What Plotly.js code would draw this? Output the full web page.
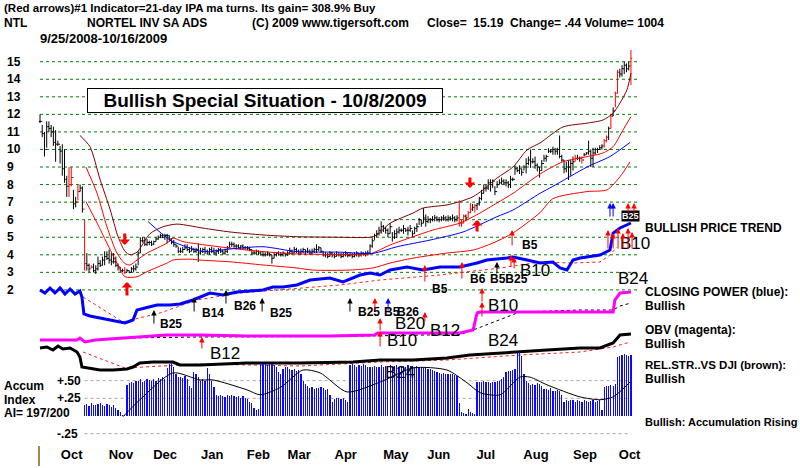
<!DOCTYPE html>
<html>
<head>
<meta charset="utf-8">
<script src="https://cdn.plot.ly/plotly-3.0.1.min.js"></script>
<style>
  html, body { margin: 0; padding: 0; background: #ffffff; }
  #chart { width: 800px; height: 468px; }
</style>
</head>
<body>
<div id="chart"></div>
<script>
// NTL daily bars, trading-day index 0 = 9/25/2008 ... 265 = 10/16/2009
const HIGH = [
  12.0,11.4,11.0,11.6,11.6,11.4,11.3,11.1,10.5,10.2,
  10.3,10.0,8.5,9.0,9.0,7.7,7.3,8.0,8.0,7.9,
  6.0,4.1,3.5,3.4,3.5,3.4,3.9,3.7,3.9,4.2,
  4.2,4.3,4.1,4.1,3.9,3.5,3.3,3.2,3.3,3.2,
  3.1,3.3,3.4,3.5,4.2,5.0,5.0,5.0,4.9,4.8,
  4.8,4.8,5.0,5.1,5.2,5.2,5.2,5.2,5.1,4.95,
  4.85,4.6,4.45,4.4,4.45,4.6,4.6,4.45,4.5,4.4,
  4.4,4.65,4.4,4.4,4.45,4.3,4.4,4.45,4.4,4.3,
  4.4,4.4,4.3,4.35,4.5,4.75,4.75,4.7,4.6,4.6,
  4.55,4.6,4.5,4.5,4.45,4.3,4.25,4.3,4.25,4.2,
  4.2,4.15,4.2,4.1,4.0,4.1,4.15,4.2,4.15,4.2,
  4.1,4.2,4.4,4.3,4.45,4.4,4.3,4.35,4.4,4.3,
  4.4,4.3,4.35,4.4,4.6,4.5,4.4,4.2,4.15,4.1,
  4.2,4.15,4.1,4.2,4.15,4.1,4.15,4.2,4.1,4.15,
  4.1,4.15,4.2,4.1,4.2,4.15,4.2,4.25,4.6,4.95,
  5.2,5.4,5.6,5.9,5.7,5.6,5.5,5.8,5.3,5.4,
  5.5,5.6,5.5,5.7,5.5,5.6,5.7,5.4,5.6,5.8,
  6.1,6.0,6.66,6.3,6.2,6.1,6.2,6.27,6.2,6.15,
  6.2,6.27,6.2,6.25,6.2,6.3,6.2,6.25,7.1,6.0,
  6.3,6.3,6.5,6.94,6.9,6.9,6.95,7.3,7.7,8.0,
  8.0,8.3,8.3,8.3,7.9,8.2,8.3,8.4,8.3,8.3,
  8.2,8.5,8.4,9.1,9.0,9.1,8.9,9.1,9.5,9.6,
  10.0,9.5,9.6,9.2,9.0,9.4,9.7,9.7,10.07,10.0,
  10.16,10.1,10.1,10.8,9.7,9.4,9.3,9.4,9.4,9.6,
  9.7,9.7,9.6,9.6,9.8,9.85,10.5,10.0,10.1,10.1,
  10.1,10.24,10.3,10.6,10.8,11.3,11.96,12.4,13.3,14.53,
  14.6,14.8,15.0,14.9,15.0,15.67
];
const LOW = [
  11.5,10.7,9.6,10.1,11.0,10.7,10.2,9.3,10.2,9.2,
  8.5,8.1,7.3,7.3,7.9,6.6,6.7,7.1,7.6,6.4,
  3.1,3.1,3.0,3.25,3.0,2.9,3.1,3.3,3.4,3.4,
  3.7,3.5,3.4,3.5,3.3,3.1,3.0,3.0,2.9,3.0,
  2.95,3.0,3.0,3.1,3.4,4.1,4.7,4.5,4.5,4.55,
  4.5,4.55,4.75,4.85,4.95,4.95,4.85,4.65,4.75,4.6,
  4.45,4.4,4.1,4.1,4.1,4.3,4.2,4.1,4.2,4.1,
  4.1,3.6,4.0,4.1,4.05,4.0,4.0,4.1,4.0,3.95,
  4.05,4.1,4.0,4.0,4.1,4.4,4.45,4.4,4.3,4.35,
  4.3,4.3,4.3,4.25,4.2,4.0,4.0,4.0,4.0,3.95,
  3.9,3.9,3.95,3.9,3.5,3.8,3.9,3.95,3.9,3.9,
  3.9,3.95,4.0,4.0,4.1,4.1,4.0,4.0,4.1,4.0,
  4.1,4.0,4.05,4.1,4.1,4.2,4.1,3.9,3.85,3.8,
  3.9,3.85,3.8,3.9,3.9,3.8,3.85,3.9,3.85,3.9,
  3.8,3.85,3.9,3.85,3.9,3.95,3.9,3.95,4.1,4.4,
  4.85,5.0,5.1,5.2,5.3,5.2,5.0,5.2,4.75,4.9,
  4.95,5.2,5.3,5.2,5.3,5.1,5.3,5.0,5.2,5.3,
  5.7,5.6,5.8,5.6,5.8,5.8,5.9,5.9,5.9,5.85,
  5.9,5.95,5.9,5.9,5.95,5.9,5.85,5.9,5.6,5.6,
  5.8,5.9,6.1,6.37,6.5,6.4,6.55,6.8,7.1,7.5,
  7.6,7.7,7.6,7.8,7.4,7.8,8.0,8.0,8.0,7.9,
  7.8,7.8,8.2,8.55,8.7,8.6,8.5,8.8,8.64,9.1,
  8.95,9.2,8.9,8.75,8.4,8.8,9.3,9.3,9.8,9.8,
  9.7,9.7,9.7,9.5,9.3,8.65,8.7,8.26,8.5,8.8,
  9.3,9.4,9.3,9.2,9.6,9.7,9.7,9.0,9.0,9.7,
  9.8,9.97,10.0,10.1,10.4,10.54,11.2,11.9,12.4,13.2,
  14.1,14.15,14.3,14.4,14.5,13.67
];
const CLOSE = [
  11.6,10.9,10.0,11.3,11.2,11.0,10.4,10.3,10.3,9.9,
  8.9,8.3,7.9,8.0,8.4,6.9,7.0,7.6,7.8,6.6,
  3.5,3.4,3.2,3.3,3.1,3.2,3.5,3.4,3.7,3.9,
  3.8,3.7,3.6,3.6,3.4,3.3,3.1,3.1,3.0,3.1,
  3.0,3.2,3.2,3.3,4.1,4.8,4.8,4.6,4.7,4.7,
  4.6,4.75,4.9,5.0,5.1,5.0,5.1,5.1,4.9,4.7,
  4.6,4.5,4.2,4.2,4.3,4.4,4.3,4.2,4.3,4.2,
  4.3,4.1,4.2,4.3,4.2,4.1,4.3,4.2,4.1,4.2,
  4.3,4.2,4.1,4.2,4.4,4.6,4.6,4.5,4.5,4.4,
  4.5,4.4,4.4,4.35,4.3,4.1,4.1,4.2,4.1,4.0,
  4.0,4.0,4.1,4.0,3.8,4.0,4.1,4.0,4.0,4.1,
  4.0,4.1,4.2,4.1,4.3,4.2,4.1,4.2,4.3,4.2,
  4.2,4.1,4.2,4.3,4.3,4.4,4.2,4.0,4.0,3.9,
  4.1,4.0,3.9,4.0,4.0,3.9,4.0,4.1,3.95,4.0,
  3.9,4.0,4.1,4.0,4.1,4.05,4.1,4.1,4.5,4.8,
  5.1,5.2,5.4,5.6,5.5,5.4,5.2,5.6,5.0,5.2,
  5.3,5.4,5.4,5.5,5.4,5.4,5.5,5.2,5.5,5.6,
  6.0,5.8,6.1,5.9,6.0,6.0,6.0,6.1,6.0,6.0,
  6.1,6.1,6.0,6.1,6.05,6.1,6.0,6.1,5.8,5.8,
  6.2,6.1,6.4,6.6,6.7,6.8,6.9,7.2,7.5,7.8,
  7.8,8.1,8.0,8.2,7.6,8.0,8.1,8.2,8.1,8.1,
  8.0,8.3,8.3,8.9,8.8,8.9,8.7,9.0,9.2,9.4,
  9.3,9.3,9.1,9.0,8.8,9.2,9.5,9.6,9.9,9.9,
  10.0,9.9,10.0,9.6,9.4,8.9,9.0,9.0,9.2,9.3,
  9.5,9.5,9.5,9.4,9.7,9.8,9.9,9.5,9.8,10.0,
  10.0,10.1,10.2,10.5,10.7,11.2,11.9,12.2,13.2,14.4,
  14.3,14.6,14.8,14.6,14.75,15.19
];
// days drawn as red bars
const RED_DAYS = [13,14,17,20,23,38,188,189,190,192,193,195,240,243,253,254,256,258,259,265];

// price bands and moving average: [day, price]
const BAND_UPPER = [[17.9,10.8],[22.4,10.16],[26.9,8.3],[31.4,6.6],[35,5.03],[38.1,4.2],[40.4,4.0],[43.5,4.15],[49.3,5.2],[55.2,5.6],[61.4,5.75],[67.3,5.65],[73.1,5.52],[85.2,5.3],[100,5.13],[115.2,5.03],[134.5,5.0],[148,5.0],[151.1,5.13],[157,5.8],[167.3,6.38],[171.7,6.66],[182.5,6.84],[188.3,7.03],[194.2,7.31],[198.7,7.7],[204.9,8.37],[212.1,9.0],[218.4,9.97],[224.2,10.37],[234.5,11.28],[245.3,11.5],[252.5,11.68],[257,12.07],[260.1,12.65],[263.2,13.4],[265,14.35]];
const BAND_MID = [[20.6,9.0],[25.6,7.5],[30,5.6],[34.5,4.1],[38.1,3.5],[40.4,3.42],[43.5,3.7],[48,4.1],[57,4.67],[59.6,4.95],[64.1,4.75],[71.7,4.6],[85.2,4.38],[100,4.18],[115.2,4.05],[134.5,4.02],[148,4.05],[157,4.56],[167.3,5.03],[176.2,5.41],[188.3,5.81],[197.3,6.38],[204.9,6.95],[212.1,7.5],[224.2,8.6],[234.5,9.3],[245.3,9.59],[252.5,9.8],[257,10.16],[261.4,11.1],[265,11.87]];
const BAND_LOWER = [[20.6,7.03],[25.6,5.81],[30,4.67],[34.5,3.53],[38.1,2.75],[43.5,2.75],[48,3.04],[57,3.53],[59.6,3.7],[67.3,3.75],[71.7,3.7],[85.2,3.6],[100,3.42],[115.2,3.25],[122.4,3.13],[139,3.13],[149.3,3.25],[157,3.53],[167.3,3.81],[182.5,4.1],[194.2,4.27],[203.1,4.67],[212.1,5.24],[224.2,6.4],[230,7.2],[245.3,7.6],[254.3,7.7],[260.1,8.45],[264.6,9.3]];
const PRICE_MA = [[48.4,5.9],[58.3,4.84],[67.3,4.38],[73.1,4.18],[85.2,4.33],[100,4.46],[115.2,4.18],[134.5,4.15],[149.3,4.08],[160.1,4.46],[174.9,4.84],[189.7,5.3],[204.9,6.17],[212.1,6.55],[224.2,7.5],[230,7.9],[245.3,9.0],[255.6,9.6],[264.6,10.4]];

// price-trend line (blue) and its average
const TREND = [[0,20],[2.2,18.5],[4.5,21],[6.7,18.5],[9,21],[11.2,18],[13.5,20.5],[15.7,18],[17.9,19.5],[18.8,16.5],[19.7,8],[22.4,7],[26.9,6],[31.4,5],[35,4],[38.1,3.5],[41.7,5],[43.5,10],[47.1,11],[52.5,12.5],[58.3,12.5],[62.8,13],[68.6,15],[76.2,18.5],[82,17.5],[88.3,19],[94.2,19.5],[100,20],[104.5,21.5],[109,21.5],[115.2,22.5],[121.1,25],[130,26],[135.9,24],[143.5,27.5],[148,28.5],[152.5,27.5],[157,30],[164.6,31.5],[171.7,30],[179.4,31.5],[188.3,31.5],[196,33.5],[200.4,35],[209.4,36],[212.1,36.5],[218.4,35],[224.2,33.5],[230,34],[233.2,31],[236.3,30],[239,35],[242.2,36],[251.1,37.5],[255.6,40],[257,48.5],[260.1,51],[263.2,52.5],[265,53.5]];
const TREND_MA = [[19.3,16.5],[37.2,4],[53.8,8.5],[70.4,15],[89.7,18.5],[107.6,20],[134.5,22.5],[152.5,25],[179.4,27.5],[206.3,31],[224.2,34],[239,33.5],[251.1,34],[255.6,37.5],[258.7,41.5]];

// closing power (magenta) and its average
const CLOSING_POWER = [[0,10],[16.6,10],[17.9,12],[20.2,8],[24.7,10],[39,12],[57,15],[71.7,15],[92.8,14],[130,14],[150,15],[151.5,17],[188.3,17],[194.2,20],[196,37],[197.3,38],[242.2,38],[257,38],[257.8,50],[260.1,57],[265,58]];
const CLOSING_POWER_MA = [[39,12],[71.7,13],[130,13.5],[188.3,15.5],[194.2,20],[215.2,38],[242.2,40],[257,40],[260.1,44],[265,47]];

// OBV (black) and its average
const OBV = [[0,32],[3.1,33],[5.8,30],[8.1,34],[10.3,31],[13.5,32],[16.6,28],[17.9,23],[18.8,13],[21.1,12],[26.9,10],[32.7,10],[39,11],[41.7,13],[44.8,17],[50.7,18],[59.6,18],[62.8,15],[71.7,15],[92.8,17],[116.6,17],[140.4,18],[152.5,20],[167.3,20],[182.5,22],[192.8,25],[204.9,27],[215.2,28],[227.4,30],[242.2,32],[251.1,32],[257,37],[260.1,45],[265,46]];
const OBV_MA = [[19.3,28],[38.1,12],[71.7,16],[116.6,14],[152.5,18],[182.5,20],[215.2,25],[242.2,28],[257,33],[264.6,38]];

// accumulation index, one value per day from day 20
const ACCUM_START = 20;
const ACCUM = [
  .15,.17,.14,.18,.16,.15,.17,.18,.16,.14,.17,.16,.13,.15,
  .12,.09,.05,.02,.01,
  .44,.47,.48,.46,.5,.49,.52,.48,.5,.53,.51,.49,.52,.5,.54,.52,.55,.53,
  .68,.74,.76,.7,
  .6,.55,
  .55,.54,.56,.52,
  .42,.4,
  .62,.6,.55,
  .5,.52,.5,.68,
  .6,.5,.41,
  .3,.28,.3,.29,.27,.3,.28,.3,.29,.27,.28,.26,.28,.25,.24,
  .2,.18,.12,.08,.1,
  .75,.74,.73,.72,.73,.74,.72,.7,
  .62,.6,.66,.7,
  .7,.67,.65,.66,.64,.65,.6,
  .5,.45,
  .42,.4,.41,.38,.4,.39,.41,.4,.37,.38,.3,
  .2,.24,.26,.25,.24,.26,.22,.2,
  .72,.73,.72,.7,.72,.71,.73,.72,.7,.7,.69,.71,.7,
  .7,.72,.7,.71,.69,.72,.7,.71,.72,.7,.69,.71,.7,.72,.71,.7,
  .7,.71,.7,.69,.68,.69,.67,.66,.65,
  .63,.62,.61,.6,.61,.6,.6,.59,.6,.58,.57,
  .18,.05,.04,.03,.1,.05,.04,.03,
  .48,.48,.48,.49,.48,.48,.47,.48,.48,.49,.5,.52,.55,
  .62,.63,.64,.65,.66,
  .89,.9,.85,
  .6,.5,.46,
  .44,.45,.44,.46,.45,.42,.38,
  .38,.37,.39,.36,.35,.37,.36,.3,
  .2,.22,.21,.23,.22,.2,.22,.21,.2,.22,.21,.2,.21,.22,.2,.21,
  .22,.08,
  .41,.42,.43,.44,.43,.45,
  .83,.85,.86,.87,.86,.85,.86
];
const ACCUM_MA = [[37.2,-0.01],[44.8,.23],[59.6,.61],[71.7,.51],[77.6,.51],[92.8,.37],[98.7,.30],[107.6,.40],[117.9,.65],[125.6,.61],[137.7,.34],[152.5,.48],[167.3,.68],[182.5,.65],[191.5,.47],[197.3,.33],[206.3,.30],[215.2,.55],[219.7,.55],[227.4,.44],[242.2,.27],[251.1,.23],[257,.27],[264.6,.48]];

// axis labels
const PRICE_TICKS = [15,14,13,12,11,10,9,8,7,6,5,4,3,2];
const ACCUM_TICKS = [0.5, 0.25, -0.25];
const ACCUM_TICK_TEXT = ['+.50', '+.25', '-.25'];
const MONTHS = ['Oct','Nov','Dec','Jan','Feb','Mar','Apr','May','Jun','Jul','Aug','Sep','Oct'];
const MONTH_POS = [14.2,36.3,56.1,77.2,97.9,116.2,137.1,159.6,178.8,199.9,222.4,244.4,264.4];

// ---------------- layout geometry ----------------
const W = 800, PLOT_H = 440;
const SANS = "'Liberation Sans', Arial, sans-serif";
const px = x => x / W;
const py = y => 1 - y / PLOT_H;

// value range that puts v1 at pixel p1 and v2 at pixel p2 across [0, size]
function calibrate(v1, p1, v2, p2, size, inverted) {
  const k = (p2 - p1) / (v2 - v1);
  const at = p => v1 + (p - p1) / k;
  return inverted ? [at(size), at(0)] : [at(0), at(size)];
}
const X_RANGE = calibrate(0, 40, 265, 40 + 265 * 2.23, W, false);
const PRICE_RANGE = calibrate(15, 61.7, 2, 289.9, PLOT_H, true);
const TREND_RANGE = calibrate(0, 330, 50, 230, PLOT_H, true);
const CP_RANGE = calibrate(0, 350, 50, 300, PLOT_H, true);
const OBV_RANGE = calibrate(0, 380, 50, 330, PLOT_H, true);
const ACCUM_RANGE = calibrate(0, 416, 0.5, 380.65, PLOT_H, true);

const xs = pts => pts.map(p => p[0]);
const ys = pts => pts.map(p => p[1]);
function line(pts, yaxis, color, width, dash, smooth) {
  return {
    type: 'scatter', mode: 'lines', x: xs(pts), y: ys(pts), yaxis,
    line: { color, width, dash: dash || 'solid', shape: smooth ? 'spline' : 'linear', smoothing: 0.7 },
    hoverinfo: 'skip', showlegend: false
  };
}

const DAYS = CLOSE.map((_, i) => i);
const openOf = i => (i === 0 ? CLOSE[0] : CLOSE[i - 1]);
function bars(days, color) {
  return {
    type: 'ohlc', x: days, open: days.map(openOf), high: days.map(i => HIGH[i]),
    low: days.map(i => LOW[i]), close: days.map(i => CLOSE[i]),
    increasing: { line: { color, width: 1 } }, decreasing: { line: { color, width: 1 } },
    tickwidth: 0.5, yaxis: 'y', hoverinfo: 'skip', showlegend: false
  };
}
const redSet = new Set(RED_DAYS);

const traces = [
  {
    type: 'bar', x: ACCUM.map((_, i) => ACCUM_START + i), y: ACCUM, yaxis: 'y5',
    width: 0.55, marker: { color: '#0a0aff', line: { width: 0 } }, hoverinfo: 'skip', showlegend: false
  },
  line(ACCUM_MA, 'y5', '#000000', 1, 'solid', true),
  line(OBV_MA, 'y4', '#ff2020', 1, 'dot', false),
  line(OBV, 'y4', '#000000', 3, 'solid', false),
  line(CLOSING_POWER_MA, 'y3', '#000000', 1, 'dot', false),
  line(CLOSING_POWER, 'y3', '#ff00ff', 3, 'solid', false),
  line(TREND_MA, 'y2', '#ff2020', 1, 'dot', false),
  line(TREND, 'y2', '#0000ff', 3, 'solid', false),
  line(BAND_UPPER, 'y', '#800000', 1, 'solid', true),
  line(BAND_MID, 'y', '#ff0000', 1, 'solid', true),
  line(BAND_LOWER, 'y', '#ff0000', 1, 'solid', true),
  line(PRICE_MA, 'y', '#0000ff', 1, 'solid', true),
  bars(DAYS.filter(i => !redSet.has(i)), '#000000'),
  bars(RED_DAYS, '#ff0000')
];

// ---------------- annotations ----------------
function label(text, x, y, size, opts) {
  return Object.assign({
    xref: 'paper', yref: 'paper', x: px(x), y: py(y), text, showarrow: false,
    xanchor: 'left', yanchor: 'middle',
    font: { family: SANS, size: size || 12, color: '#000000', weight: 'bold' }
  }, opts || {});
}
function big(text, x, y) {
  return label(text, x, y, 17, { xanchor: 'center', font: { family: SANS, size: 17, color: '#000000' } });
}
function small(text, x, y) {
  return label(text, x, y, 12);
}
// signal arrow: tip at pixel row tipY, tail `len` pixels below (negative = above)
function arrow(day, tipY, len, color, width) {
  return {
    xref: 'x', yref: 'paper', x: day, y: py(tipY), ax: 0, ay: len, text: '',
    showarrow: true, arrowhead: width > 1 ? 1 : 2, arrowsize: width > 1 ? 0.6 : 1.1,
    arrowwidth: width || 1, arrowcolor: color, standoff: 0, startstandoff: 0
  };
}

const annotations = [
  // header
  label('(Red arrows)#1 Indicator=21-day IPA ma turns. Its gain= 308.9% Buy', 2, 7.5, 11.5),
  label('NTL', 2, 22.5, 12),
  label('NORTEL INV SA ADS', 85, 22.5, 12),
  label('(C) 2009 www.tigersoft.com', 250, 22.5, 12),
  label('Close=&nbsp; 15.19&nbsp; Change= .44 Volume= 1004', 425, 22.5, 12),
  label('9/25/2008-10/16/2009', 38, 39, 13),
  {
    xref: 'paper', yref: 'paper', x: px(265), y: py(100.5), xanchor: 'center', yanchor: 'middle',
    text: 'Bullish Special Situation - 10/8/2009', showarrow: false,
    width: 354, height: 23, borderpad: 0, borderwidth: 1, bordercolor: '#000000', bgcolor: '#ffffff',
    font: { family: SANS, size: 19, color: '#000000', weight: 'bold' }
  },
  // right-hand status text
  label('BULLISH PRICE TREND', 643, 228),
  label('CLOSING POWER (blue):', 643, 292),
  label('Bullish', 643, 306),
  label('OBV (magenta):', 643, 330),
  label('Bullish', 643, 344),
  label('REL.STR..VS DJI (brown):', 643, 365, 11.5),
  label('Bullish', 643, 379),
  label('Bullish: Accumulation Rising', 643, 422, 11),
  // accumulation panel captions
  label('Accum', 2, 386, 12),
  label('Index', 2, 400, 12),
  label('AI= 197/200', 2, 413, 12),
  // signal codes
  small('B5', 520, 245), small('B5', 430, 289), small('B6', 468, 279), small('B5B25', 488, 279),
  small('B25', 158, 324), small('B14', 200, 313), small('B26', 232, 306), small('B25', 268, 313),
  small('B25', 356, 312), small('B5', 382, 312), small('B26', 395, 312),
  big('B10', 635, 243), big('B10', 535, 270), big('B20', 410, 323), big('B10', 402, 340),
  big('B12', 445, 330), big('B10', 503, 305), big('B24', 503, 340), big('B24', 633, 278),
  big('B12', 225, 353), big('B24', 400, 372),
  label('B25', 630, 216, 9, { xanchor: 'center', bgcolor: '#000000', borderpad: 0,
    font: { family: SANS, size: 9, color: '#ffffff', weight: 'bold' } }),
  // arrows
  arrow(38, 245, -13, '#ff0000', 3), arrow(39, 282, 15, '#ff0000', 3),
  arrow(192.8, 188, -12, '#ff0000', 3), arrow(196, 220, 13, '#ff0000', 3),
  arrow(211.7, 230, 17, '#ff0000', 1),
  arrow(255.6, 203, 15, '#0000ff', 1), arrow(257, 203, 15, '#0000ff', 1),
  arrow(263.7, 203, 12, '#ff0000', 1), arrow(266.4, 203, 12, '#ff0000', 1),
  arrow(254.7, 230, 20, '#ff0000', 1), arrow(257, 233, 17, '#ff0000', 1), arrow(259.2, 228, 22, '#ff0000', 1),
  arrow(261.4, 233, 17, '#ff0000', 1), arrow(263.7, 228, 22, '#ff0000', 1), arrow(265.5, 232, 18, '#ff0000', 1),
  arrow(172.6, 265, 18, '#ff0000', 1), arrow(189.2, 262, 18, '#ff0000', 1), arrow(204.9, 262, 13, '#000000', 1),
  arrow(211.2, 255, 13, '#ff0000', 1), arrow(212.6, 257, 13, '#ff0000', 1),
  arrow(51.1, 310, 15, '#000000', 1), arrow(69.1, 297, 16, '#000000', 1), arrow(83.4, 290, 15, '#000000', 1),
  arrow(99.6, 298, 15, '#000000', 1), arrow(139, 298, 15, '#000000', 1),
  arrow(150.2, 298, 14, '#ff0000', 1), arrow(156.1, 298, 14, '#0000ff', 1),
  arrow(152.5, 318, 14, '#ff0000', 1), arrow(152.5, 331, 17, '#ff0000', 1),
  arrow(172.6, 312, 11, '#ff0000', 1),
  arrow(198.2, 288, 15, '#ff0000', 1), arrow(198.2, 302, 16, '#ff0000', 1),
  arrow(72.6, 337, 13, '#ff0000', 1)
];

PRICE_TICKS.forEach(v => annotations.push({
  xref: 'paper', yref: 'y', x: px(5), y: v, text: String(v), showarrow: false,
  xanchor: 'left', yanchor: 'middle', font: { family: SANS, size: 12, color: '#000000', weight: 'bold' }
}));
ACCUM_TICKS.forEach((v, i) => annotations.push({
  xref: 'paper', yref: 'y5', x: px(55), y: v, text: ACCUM_TICK_TEXT[i], showarrow: false,
  xanchor: 'left', yanchor: 'middle', font: { family: SANS, size: 12, color: '#000000', weight: 'bold' }
}));

const shapes = [];
PRICE_TICKS.forEach(v => shapes.push({
  type: 'line', xref: 'x', yref: 'y', x0: 0, x1: 268, y0: v, y1: v, layer: 'below',
  line: { color: '#008000', width: 1, dash: 'dot' }
}));
ACCUM_TICKS.forEach(v => shapes.push({
  type: 'line', xref: 'x', yref: 'y5', x0: ACCUM_START, x1: 265, y0: v, y1: v, layer: 'below',
  line: { color: '#b89aae', width: 1, dash: 'dot' }
}));
shapes.push({
  type: 'line', xref: 'paper', yref: 'paper', x0: px(39), x1: px(39), y0: py(446), y1: py(466),
  line: { color: '#a08850', width: 2 }
});

const hiddenAxis = range => ({
  range, overlaying: 'y', visible: false, fixedrange: true, showgrid: false, zeroline: false
});

const layout = {
  width: 800, height: 468,
  margin: { l: 0, r: 0, t: 0, b: 28, pad: 0 },
  paper_bgcolor: '#ffffff', plot_bgcolor: '#ffffff',
  showlegend: false, bargap: 0,
  xaxis: {
    range: X_RANGE, tickvals: MONTH_POS, ticktext: MONTHS, ticks: '',
    tickfont: { family: SANS, size: 13, color: '#000000', weight: 'bold' },
    ticklabelstandoff: 5,
    showgrid: false, zeroline: false, showline: false, fixedrange: true,
    rangeslider: { visible: false }
  },
  yaxis: { range: PRICE_RANGE, visible: false, fixedrange: true, showgrid: false, zeroline: false },
  yaxis2: hiddenAxis(TREND_RANGE),
  yaxis3: hiddenAxis(CP_RANGE),
  yaxis4: hiddenAxis(OBV_RANGE),
  yaxis5: hiddenAxis(ACCUM_RANGE),
  annotations, shapes
};

Plotly.newPlot('chart', traces, layout, { staticPlot: true, displayModeBar: false });
</script>
</body>
</html>
